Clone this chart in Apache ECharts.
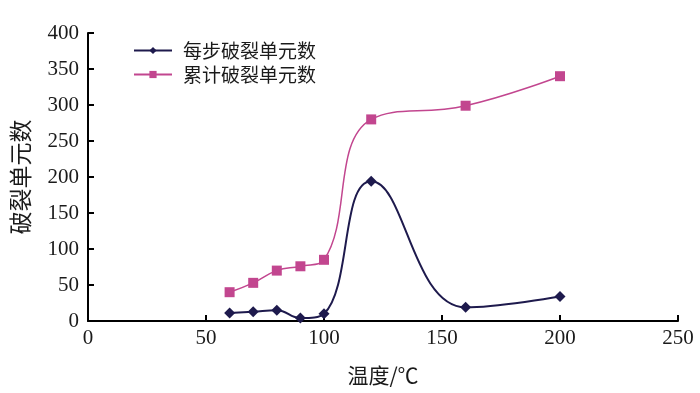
<!DOCTYPE html>
<html>
<head>
<meta charset="utf-8">
<script src="https://cdn.jsdelivr.net/npm/echarts@6/dist/echarts.min.js"></script>
<style>
  html, body { margin: 0; padding: 0; background: #fff; }
  #main { width: 700px; height: 393px; }
</style>
</head>
<body>
<div id="main"></div>
<script>
// 温度 (℃)
var temps = [60, 70, 80, 90, 100, 120, 160, 200];
// 每步破裂单元数
var stepCount = [11, 13, 15, 4, 10, 194, 19, 34];
// 累计破裂单元数
var totalCount = [40, 53, 70, 76, 85, 280, 299, 340];
var xTicks = [0, 50, 100, 150, 200, 250];
var yTicks = [0, 50, 100, 150, 200, 250, 300, 350, 400];

var serif = '"Liberation Serif", "Noto Sans CJK SC", serif';
var cjk = '"Noto Sans CJK SC", sans-serif';

var chart = echarts.init(document.getElementById('main'));
var option = {
  animation: false,
  textStyle: { fontFamily: serif, color: '#1a1a1a' },
  grid: { left: 88, right: 22, top: 33, bottom: 72 },
  legend: {
    orient: 'vertical',
    left: 128,
    top: 36,
    itemWidth: 38,
    itemHeight: 9,
    itemGap: 5,
    textStyle: { fontFamily: cjk, fontSize: 19, color: '#1a1a1a', padding: [0, 0, 0, 6] },
    data: ['每步破裂单元数', '累计破裂单元数']
  },
  xAxis: {
    type: 'value',
    min: xTicks[0],
    max: xTicks[xTicks.length - 1],
    interval: 50,
    name: '温度/℃',
    nameLocation: 'middle',
    nameGap: 44,
    nameTextStyle: { fontSize: 21, fontFamily: cjk, color: '#1a1a1a' },
    axisLine: { lineStyle: { color: '#000', width: 2 } },
    axisTick: { inside: true, length: 6, lineStyle: { color: '#000', width: 2 } },
    axisLabel: { fontSize: 21, fontFamily: serif, color: '#1a1a1a', margin: 7 },
    splitLine: { show: false }
  },
  yAxis: {
    type: 'value',
    min: yTicks[0],
    max: yTicks[yTicks.length - 1],
    interval: 50,
    name: '破裂单元数',
    nameLocation: 'middle',
    nameGap: 56,
    nameRotate: 90,
    nameTextStyle: { fontSize: 23, fontFamily: cjk, color: '#1a1a1a' },
    axisLine: { show: true, lineStyle: { color: '#000', width: 2 } },
    axisTick: { show: true, inside: true, length: 6, lineStyle: { color: '#000', width: 2 } },
    axisLabel: { fontSize: 21, fontFamily: serif, color: '#1a1a1a', margin: 9 },
    splitLine: { show: false }
  },
  series: [
    {
      name: '每步破裂单元数',
      type: 'line',
      smooth: 0.45,
      data: temps.map(function (t, i) { return [t, stepCount[i]]; }),
      symbol: 'diamond',
      symbolSize: 11,
      itemStyle: { color: '#1e1a4d' },
      lineStyle: { color: '#1e1a4d', width: 2 }
    },
    {
      name: '累计破裂单元数',
      type: 'line',
      smooth: 0.45,
      data: temps.map(function (t, i) { return [t, totalCount[i]]; }),
      symbol: 'rect',
      symbolSize: 10,
      itemStyle: { color: '#c2468f' },
      lineStyle: { color: '#c2468f', width: 1.5 }
    }
  ]
};
chart.setOption(option);
</script>
</body>
</html>
